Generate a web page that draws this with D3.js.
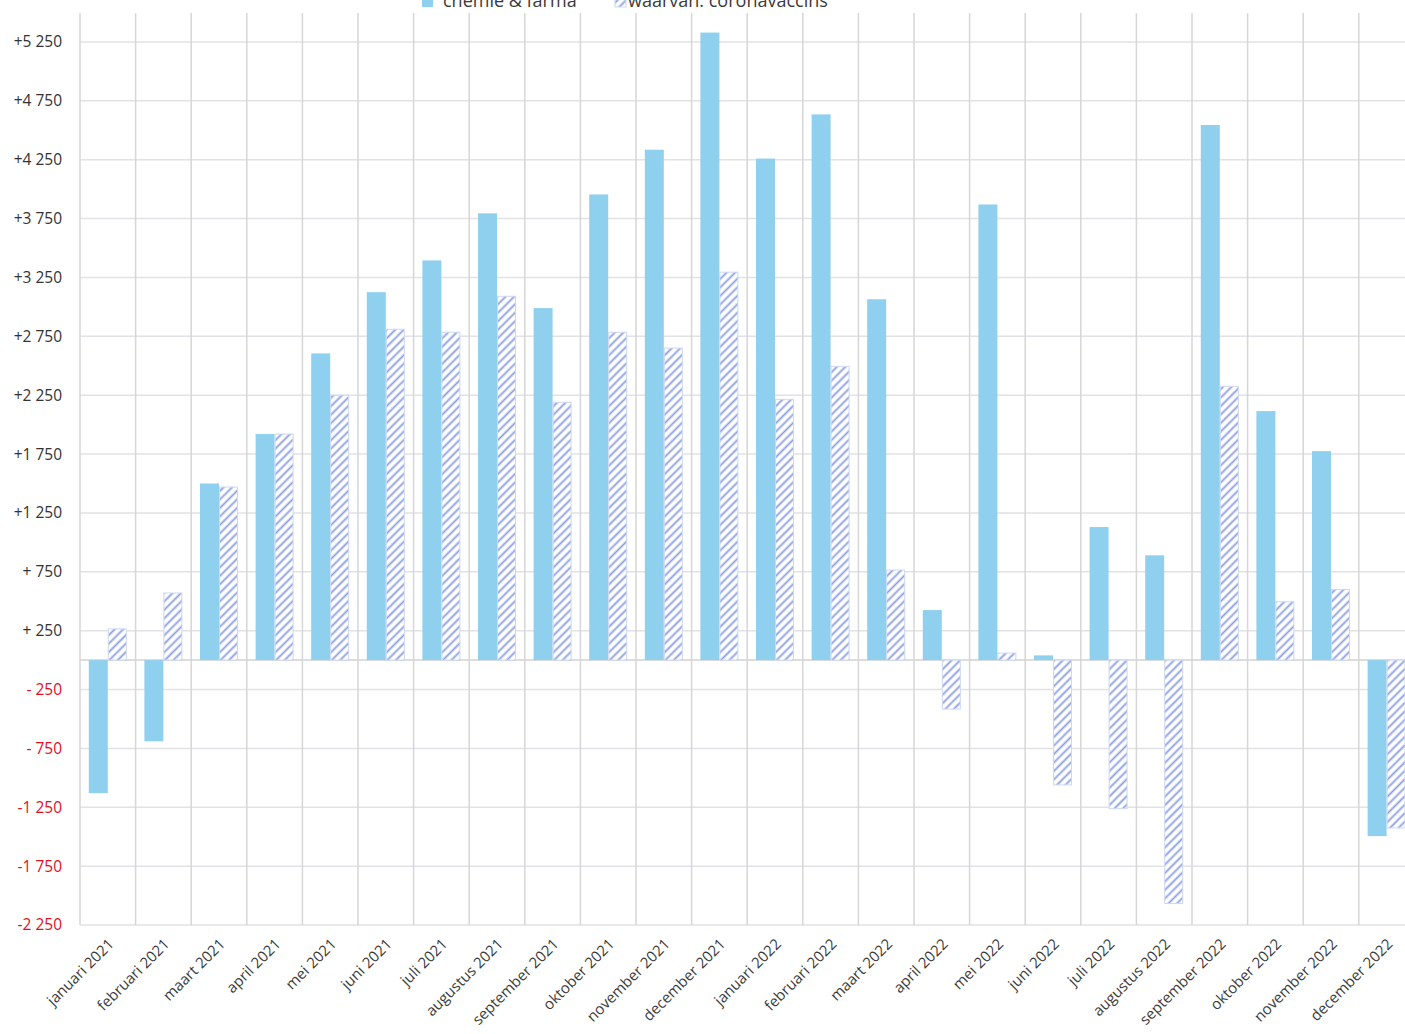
<!DOCTYPE html>
<html>
<head>
<meta charset="utf-8">
<script src="https://cdn.jsdelivr.net/npm/d3@7"></script>
<style>
  body { margin: 0; background: #fff; overflow: hidden; }
  svg { display: block; font-family: "Open Sans", "Noto Sans", sans-serif; }
</style>
</head>
<body>
<div id="chart"></div>
<script>
// months shown on the x axis
const months = [
  "januari 2021", "februari 2021", "maart 2021", "april 2021", "mei 2021", "juni 2021",
  "juli 2021", "augustus 2021", "september 2021", "oktober 2021", "november 2021", "december 2021",
  "januari 2022", "februari 2022", "maart 2022", "april 2022", "mei 2022", "juni 2022",
  "juli 2022", "augustus 2022", "september 2022", "oktober 2022", "november 2022", "december 2022"
];

// chemie & farma (solid bars)
const chemieFarma = [
  -1130, -690, 1500, 1920, 2605, 3125, 3395, 3795, 2990, 3955, 4335, 5330,
  4260, 4635, 3065, 425, 3870, 40, 1130, 890, 4545, 2115, 1775, -1495
];

// waarvan: coronavaccins (hatched bars)
const coronavaccins = [
  265, 570, 1470, 1920, 2250, 2810, 2785, 3090, 2190, 2785, 2650, 3295,
  2215, 2495, 765, -416, 60, -1060, -1262, -2068, 2325, 495, 600, -1426
];

const seriesNames = ["chemie & farma", "waarvan: coronavaccins"];

const yTickValues = [-2250, -1750, -1250, -750, -250, 250, 750, 1250, 1750, 2250, 2750, 3250, 3750, 4250, 4750, 5250];
const yTickLabels = ["-2 250", "-1 750", "-1 250", "- 750", "- 250", "+ 250", "+ 750", "+1 250", "+1 750",
                     "+2 250", "+2 750", "+3 250", "+3 750", "+4 250", "+4 750", "+5 250"];

const width = 1405, height = 1034;
const plotLeft = 80, plotTop = 13, plotBottom = 925;
const step = 55.6;

const svg = d3.select("#chart").append("svg")
    .attr("width", width)
    .attr("height", height);

const defs = svg.append("defs");
const pat = defs.append("pattern")
    .attr("id", "hatch")
    .attr("patternUnits", "userSpaceOnUse")
    .attr("width", 6)
    .attr("height", 6)
    .attr("patternTransform", "rotate(45)");
pat.append("rect").attr("width", 6).attr("height", 6).attr("fill", "#fff");
pat.append("line")
    .attr("x1", 1.5).attr("x2", 1.5)
    .attr("y1", 0).attr("y2", 6)
    .attr("stroke", "#8a9de2")
    .attr("stroke-width", 1.8);

const x = d3.scaleBand()
    .domain(months)
    .range([plotLeft, plotLeft + step * months.length])
    .padding(0);

const xInner = d3.scaleBand()
    .domain(seriesNames)
    .range([0, x.bandwidth()])
    .paddingInner(0)
    .paddingOuter(0.463);

const y = d3.scaleLinear()
    .domain([-2250, 5250])
    .range([plotBottom, 42]);

// horizontal grid
svg.append("g").selectAll("line")
    .data(yTickValues.concat([0]))
    .join("line")
    .attr("x1", plotLeft)
    .attr("x2", width)
    .attr("y1", d => y(d))
    .attr("y2", d => y(d))
    .attr("stroke", d => d === 0 ? "#d2d2d2" : "#e2e2e6")
    .attr("stroke-width", 1.5);

// vertical grid at month boundaries
svg.append("g").selectAll("line")
    .data(months)
    .join("line")
    .attr("x1", d => x(d))
    .attr("x2", d => x(d))
    .attr("y1", plotTop)
    .attr("y2", plotBottom)
    .attr("stroke", "#d6d6d6")
    .attr("stroke-width", 1.5);

// y axis labels
const yAxis = d3.axisLeft(y)
    .tickValues(yTickValues)
    .tickSize(0)
    .tickPadding(0)
    .tickFormat((d, i) => yTickLabels[i]);

const yG = svg.append("g")
    .attr("transform", `translate(${plotLeft - 18},0)`)
    .call(yAxis);
yG.select(".domain").remove();
yG.selectAll("text")
    .attr("font-size", 15.5)
    .attr("font-family", "\"Open Sans\", sans-serif")
    .attr("fill", d => d < 0 ? "#e0101e" : "#333");

// bars
const groups = svg.append("g").selectAll("g")
    .data(months)
    .join("g")
    .attr("transform", d => `translate(${x(d)},0)`);

groups.append("rect")
    .attr("x", xInner(seriesNames[0]))
    .attr("width", xInner.bandwidth())
    .attr("y", (d, i) => y(Math.max(0, chemieFarma[i])))
    .attr("height", (d, i) => Math.abs(y(chemieFarma[i]) - y(0)))
    .attr("fill", "#8fd0ef");

groups.append("rect")
    .attr("x", xInner(seriesNames[1]) + 0.5)
    .attr("width", xInner.bandwidth() - 1)
    .attr("y", (d, i) => y(Math.max(0, coronavaccins[i])))
    .attr("height", (d, i) => Math.abs(y(coronavaccins[i]) - y(0)))
    .attr("fill", "url(#hatch)")
    .attr("stroke", "#cdd8f3")
    .attr("stroke-width", 1);

// x axis labels
const xAxis = d3.axisBottom(x).tickSize(0).tickPadding(0);
const xG = svg.append("g")
    .attr("transform", `translate(0,${plotBottom})`)
    .call(xAxis);
xG.select(".domain").remove();
xG.selectAll("text")
    .attr("font-size", 15)
    .attr("font-family", "\"Open Sans\", sans-serif")
    .attr("fill", "#3a3a3a")
    .attr("text-anchor", "end")
    .attr("dy", 0)
    .attr("transform", "translate(7,20) rotate(-45)");

// legend (partly cut off at the top, as in the source)
const legend = svg.append("g").attr("transform", "translate(422,7)");
legend.append("rect")
    .attr("x", 0).attr("y", -10)
    .attr("width", 11).attr("height", 10)
    .attr("fill", "#8fd0ef");
legend.append("text")
    .attr("x", 21).attr("y", 0)
    .attr("font-size", 18)
    .attr("fill", "#3a3a3a")
    .text(seriesNames[0]);
legend.append("rect")
    .attr("x", 193).attr("y", -10)
    .attr("width", 11).attr("height", 10)
    .attr("fill", "url(#hatch)")
    .attr("stroke", "#cdd8f3");
legend.append("text")
    .attr("x", 206).attr("y", 0)
    .attr("font-size", 18)
    .attr("fill", "#3a3a3a")
    .text(seriesNames[1]);
</script>
</body>
</html>
